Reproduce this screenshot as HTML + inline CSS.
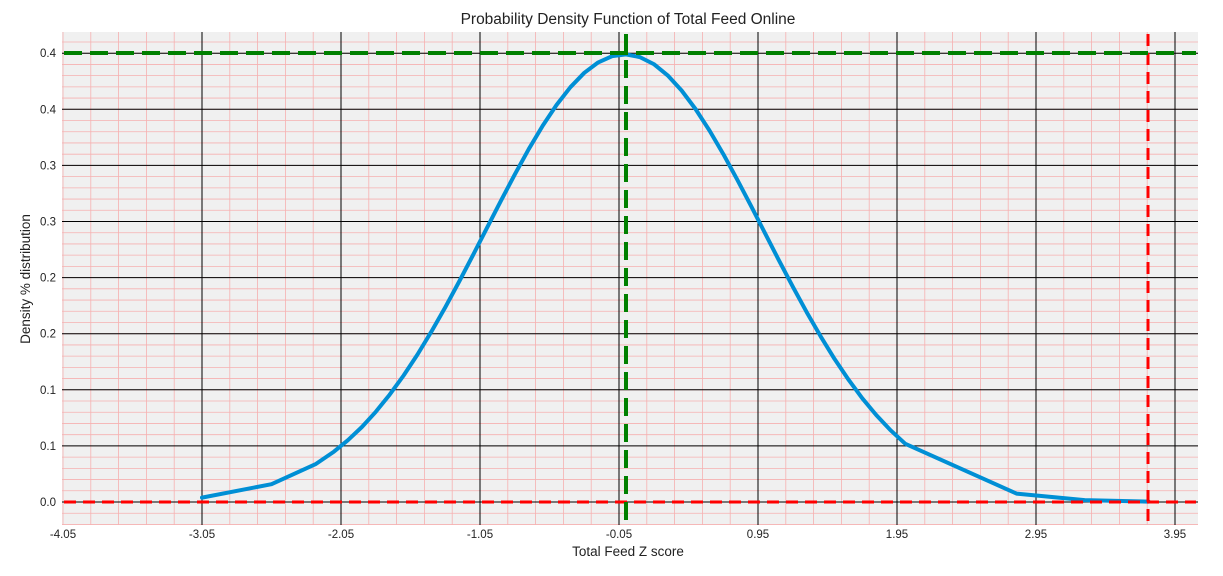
<!DOCTYPE html>
<html><head><style>
body{margin:0;background:#fff;}
svg text{font-family:"Liberation Sans","DejaVu Sans",sans-serif;fill:#222;}
</style></head><body>
<svg id="s" width="1223" height="571" xmlns="http://www.w3.org/2000/svg">
<rect x="0" y="0" width="1223" height="571" fill="#fff"/>
<rect x="62" y="32" width="1136" height="493" fill="#f0f0f0"/>
<g id="g"></g>
<text x="628" y="24" font-size="15.5" text-anchor="middle" fill="#111">Probability Density Function of Total Feed Online</text>
<text x="628" y="556" font-size="13.5" text-anchor="middle">Total Feed Z score</text>
<text transform="translate(30,279) rotate(-90)" font-size="13.5" text-anchor="middle">Density % distribution</text>
</svg>
<script>
const g=document.getElementById('g');const NS='http://www.w3.org/2000/svg';
function el(t,a){const e=document.createElementNS(NS,t);for(const k in a)e.setAttribute(k,a[k]);g.appendChild(e);return e;}
const X=x=>202+(x+3.05)*139, Y=y=>502-y*1122;
for(let i=-25;i<=45;i++){const x=-4.05+i*0.2;const px=X(x);if(px<62||px>1198)continue;el('line',{x1:px,x2:px,y1:32,y2:525,stroke:'#f6b0b0','stroke-width':0.8});}
for(let i=-5;i<=45;i++){const py=Y(i*0.01);if(py<32||py>525)continue;el('line',{x1:62,x2:1198,y1:py,y2:py,stroke:'#f6b0b0','stroke-width':0.8});}
const yl=['0.0','0.1','0.1','0.2','0.2','0.3','0.3','0.4','0.4'];
for(let i=0;i<9;i++){const py=Y(i*0.05);el('line',{x1:62,x2:1198,y1:py,y2:py,stroke:'#000','stroke-width':1});
const t=el('text',{x:56,y:py+4,'font-size':11.5,'text-anchor':'end'});t.textContent=yl[i];}
const xl=['-4.05','-3.05','-2.05','-1.05','-0.05','0.95','1.95','2.95','3.95'];
for(let i=0;i<9;i++){const px=X(-4.05+i);if(i>0)el('line',{x1:px,x2:px,y1:32,y2:525,stroke:'#000','stroke-width':1});
const t=el('text',{x:px,y:538,'font-size':11.5,'text-anchor':'middle'});t.textContent=xl[i];}
const m=-0.01,pdf=x=>Math.exp(-(x-m)*(x-m)/2)/Math.sqrt(2*Math.PI);
let xs=[-3.05,-2.55,-2.23];for(let x=-2.1;x<=1.95;x+=0.1)xs.push(x);xs.push(2.01,2.81,3.3,3.76);
el('polyline',{points:xs.map(x=>X(x).toFixed(1)+','+Y(pdf(x)).toFixed(1)).join(' '),fill:'none',stroke:'#008fd5','stroke-width':4,'stroke-linejoin':'round','stroke-linecap':'round'});
el('line',{x1:64,x2:1196,y1:Y(0),y2:Y(0),stroke:'#ff0000','stroke-width':3,'stroke-dasharray':'12,7'});
el('line',{x1:1148,x2:1148,y1:34,y2:523,stroke:'#ff0000','stroke-width':3,'stroke-dasharray':'12,7'});
el('line',{x1:64,x2:1196,y1:53,y2:53,stroke:'#008000','stroke-width':4,'stroke-dasharray':'18,8'});
el('line',{x1:626,x2:626,y1:34,y2:523,stroke:'#008000','stroke-width':4,'stroke-dasharray':'18,8'});
</script>
</body></html>
